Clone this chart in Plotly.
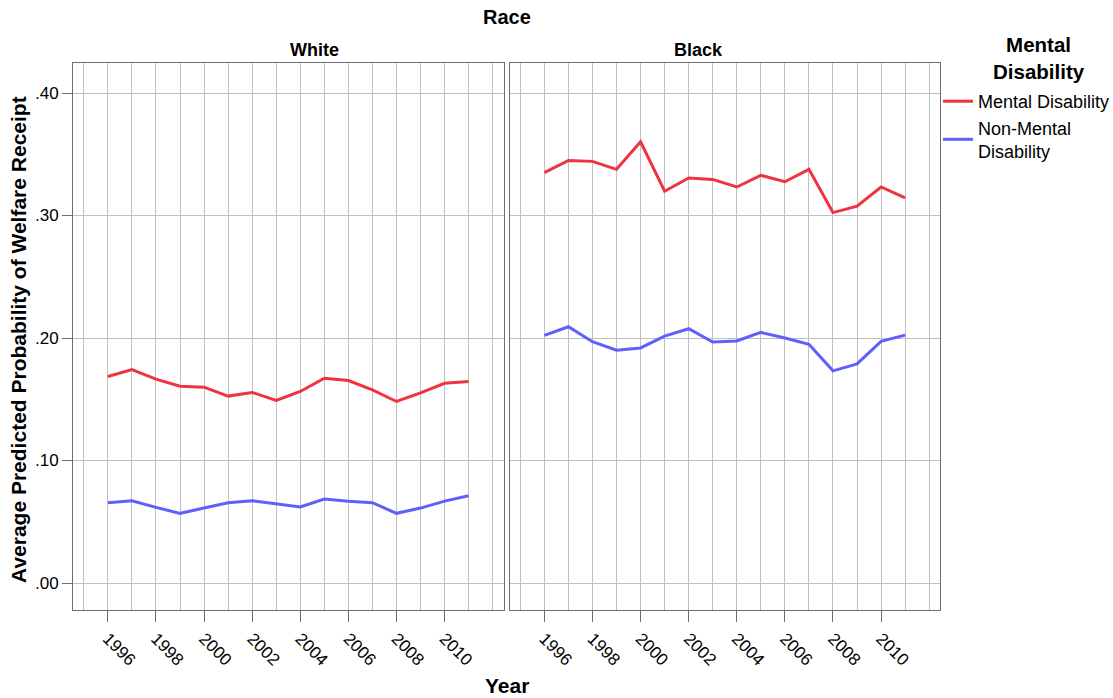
import plotly.graph_objects as go
from plotly.subplots import make_subplots

years = list(range(1996, 2012))
white_mental = [0.1686, 0.1743, 0.1664, 0.1607, 0.1599, 0.1526, 0.1556, 0.1491,
                0.1564, 0.1672, 0.1653, 0.1577, 0.1482, 0.1553, 0.1631, 0.1645]
white_nonmental = [0.0656, 0.0672, 0.0618, 0.0569, 0.0612, 0.0656, 0.0672, 0.0645,
                   0.0621, 0.0686, 0.0667, 0.0656, 0.0569, 0.0612, 0.0669, 0.0713]
black_mental = [0.3350, 0.3450, 0.3442, 0.3377, 0.3602, 0.3198, 0.3306, 0.3295,
                0.3233, 0.3328, 0.3276, 0.3377, 0.3024, 0.3076, 0.3233, 0.3144]
black_nonmental = [0.2022, 0.2092, 0.1970, 0.1900, 0.1919, 0.2016, 0.2076, 0.1967,
                   0.1976, 0.2046, 0.2000, 0.1949, 0.1732, 0.1789, 0.1973, 0.2024]

panels = ["White", "Black"]
series_names = ["Mental Disability", "Non-Mental<br>Disability"]
colors = ["#ef3340", "#5f5fff"]
y_ticks = [0.0, 0.1, 0.2, 0.3, 0.4]
y_tick_labels = [".00", ".10", ".20", ".30", ".40"]
x_ticks = list(range(1996, 2011, 2))

FONT = "Liberation Sans, Arial, sans-serif"

L, R, T, B = 73, 173, 63, 88
W, H = 1113, 698
PW, PH = W - L - R, H - T - B

def px_x(x):
    return (x - L) / PW

def px_y(y):
    return (H - B - y) / PH

fig = make_subplots(rows=1, cols=2, shared_yaxes=True, horizontal_spacing=6 / PW)

data = [(white_mental, white_nonmental), (black_mental, black_nonmental)]
for c, (m, n) in enumerate(data, start=1):
    for k, vals in enumerate([m, n]):
        fig.add_trace(go.Scatter(
            x=years, y=vals, mode="lines", name=series_names[k],
            line=dict(color=colors[k], width=3),
            showlegend=(c == 1), legendgroup=str(k)), row=1, col=c)

grid_col = "#c0c0c0"
frame_col = "#6e6e6e"
for c in (1, 2):
    fig.update_xaxes(
        range=[1994.55, 2012.45], tickmode="array", tickvals=x_ticks,
        ticktext=[str(v) for v in x_ticks], tickangle=45,
        ticks="outside", ticklen=11, tickcolor=frame_col, tickwidth=1,
        showgrid=False, zeroline=False, automargin=False,
        minor=dict(dtick=1, tick0=1996, showgrid=True, gridcolor=grid_col, gridwidth=1, ticks=""),
        showline=True, linecolor=frame_col, linewidth=1, mirror=True,
        tickfont=dict(family=FONT, size=17, color="#000"), row=1, col=c)
    fig.update_yaxes(
        range=[-0.022, 0.4245], tickmode="array", tickvals=y_ticks,
        ticktext=y_tick_labels, showgrid=True, gridcolor=grid_col, zeroline=False,
        showline=True, linecolor=frame_col, linewidth=1, mirror=True, automargin=False,
        tickfont=dict(family=FONT, size=17, color="#000"), row=1, col=c)

fig.update_yaxes(ticks="outside", ticklen=10, tickcolor=frame_col, row=1, col=1)
fig.update_yaxes(ticks="", showticklabels=False, row=1, col=2)

fig.update_layout(
    width=W, height=H,
    margin=dict(l=L, r=R, t=T, b=B, autoexpand=False),
    plot_bgcolor="white", paper_bgcolor="white",
    font=dict(family=FONT, color="#000"),
    legend=dict(
        x=px_x(938), y=px_y(83), xanchor="left", yanchor="top",
        bgcolor="rgba(0,0,0,0)",
        font=dict(family=FONT, size=18, color="#000"),
        tracegroupgap=0, itemwidth=30,
    ),
    showlegend=True,
)

fig.add_annotation(text="<b>Mental<br>Disability</b>", x=px_x(1039), y=px_y(58),
                   xref="paper", yref="paper", showarrow=False,
                   xanchor="center", yanchor="middle",
                   font=dict(family=FONT, size=20.5, color="#000"))
fig.add_annotation(text="<b>Race</b>", x=0.5, y=px_y(17),
                   xref="paper", yref="paper", showarrow=False, yanchor="middle",
                   font=dict(family=FONT, size=20, color="#000"))
for i, name in enumerate(panels):
    dom = fig.layout["xaxis" if i == 0 else "xaxis2"].domain
    fig.add_annotation(text=f"<b>{name}</b>", x=(dom[0] + dom[1]) / 2, y=px_y(50),
                       xref="paper", yref="paper", showarrow=False, yanchor="middle",
                       font=dict(family=FONT, size=18, color="#000"))
fig.add_annotation(text="<b>Year</b>", x=0.5, y=px_y(685),
                   xref="paper", yref="paper", showarrow=False, yanchor="middle",
                   font=dict(family=FONT, size=21, color="#000"))
fig.add_annotation(text="<b>Average Predicted Probability of Welfare Receipt</b>",
                   x=px_x(19), y=px_y(340), textangle=-90,
                   xref="paper", yref="paper", showarrow=False,
                   xanchor="center", yanchor="middle",
                   font=dict(family=FONT, size=21, color="#000"))

fig.write_html("out.html", config={"displayModeBar": False},
               post_script="document.body.style.margin='0px';document.body.style.overflow='hidden';")
